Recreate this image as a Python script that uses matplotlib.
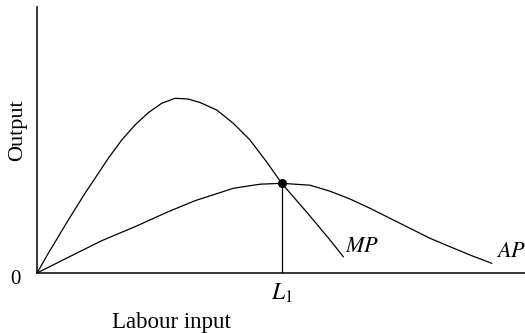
import matplotlib.pyplot as plt

plt.rcParams['font.family'] = ['Liberation Serif', 'DejaVu Serif']
plt.rcParams['mathtext.fontset'] = 'stix'

# curves (arbitrary units)
mp_labour = [0, 11.3, 31.3, 48, 58, 71.3, 84.7, 98, 111.3, 124.7, 138, 151,
             163, 179.7, 196.3, 213, 229.7, 244.7, 260, 273, 293, 306.3]
mp_output = [0, 19.7, 53, 79.7, 94.7, 114.7, 133, 148, 160.3, 169.7, 174.7, 174,
             170.5, 163, 149.7, 133, 111, 89.7, 72, 57, 33, 16.3]

ap_labour = [0, 31.3, 64.7, 98, 131.3, 158, 196.3, 223, 244.7, 273, 293,
             313, 333, 353, 373, 393, 413, 433, 454.7]
ap_output = [0, 15.7, 32.3, 46.3, 61.3, 72.3, 84.7, 88.8, 89.7, 87.8, 81.8,
             74, 64.7, 54.7, 44.7, 34.7, 26.3, 18, 9.7]

L1 = 244.7
ap_max = 89.7

fig = plt.figure(figsize=(5.25, 3.33), dpi=100)
ax = fig.add_axes([37 / 525, 60 / 333, 488 / 525, 266 / 333])

ax.plot(mp_labour, mp_output, color='black', lw=0.9)
ax.plot(ap_labour, ap_output, color='black', lw=0.9)
ax.plot([L1, L1], [0, ap_max], color='black', lw=0.9)
ax.plot([L1], [ap_max], 'o', color='black', markersize=5.5)

ax.set_xlim(0, 488)
ax.set_ylim(0, 266)
for side in ['top', 'right']:
    ax.spines[side].set_visible(False)
for side in ['left', 'bottom']:
    ax.spines[side].set_linewidth(1.1)

ax.set_xticks([L1])
ax.set_xticklabels(['$L_1$'], fontsize=17)
ax.tick_params(axis='x', length=0, pad=6)
ax.set_yticks([])

ax.text(-21.5, -7, '0', fontsize=15, ha='center', va='center', clip_on=False)
ax.text(134, -54.7, 'Labour input', fontsize=16.5, ha='center', va='baseline', clip_on=False)
ax.text(-19.5, 143, 'Output', fontsize=16, rotation=90, ha='center', va='center', clip_on=False)
ax.text(308, 21, '$MP$', fontsize=16, ha='left', va='baseline')
ax.text(459, 16, '$AP$', fontsize=16, ha='left', va='baseline', clip_on=False)

fig.savefig('out.png', dpi=100)
